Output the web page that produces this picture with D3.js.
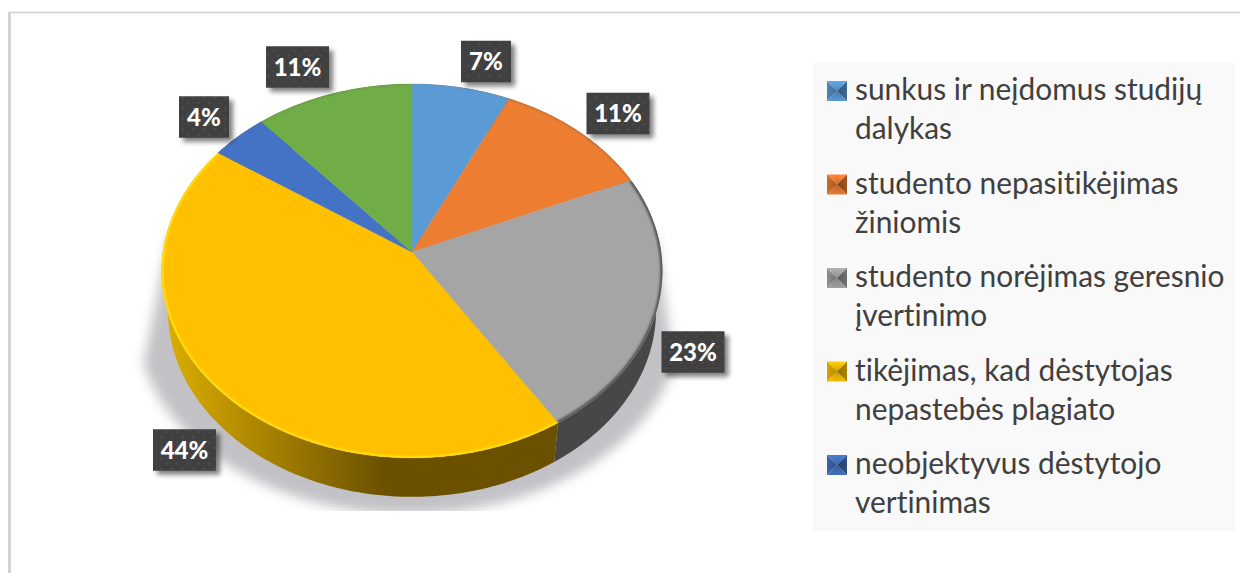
<!DOCTYPE html>
<html><head><meta charset="utf-8">
<script src="https://cdn.jsdelivr.net/npm/d3@7"></script>
<style>html,body{margin:0;padding:0;background:#fff}svg{display:block}text{font-family:Lato,"Open Sans",sans-serif;font-variant-ligatures:none}</style>
</head><body><svg id="c" width="1240" height="573"></svg>
<script>
const values=[7.0,11.4,22.6,43.6,4.1,11.3];
const valueLabels=["7%","11%","23%","44%","4%","11%"];
const sliceColors=["#5B9BD5","#ED7D31","#A5A5A5","#FFC000","#4472C4","#70AD47"];
const legendLines=[["sunkus ir neįdomus studijų","dalykas"],["studento nepasitikėjimas","žiniomis"],["studento norėjimas geresnio","įvertinimo"],["tikėjimas, kad dėstytojas","nepastebės plagiato"],["neobjektyvus dėstytojo","vertinimas"]];
const legendColors=sliceColors.slice(0,5);
const labelCenters=[[486,61.5],[618,113.5],[693,352],[184.5,450],[204,117],[297.5,67]];

const svg=d3.select("#c");
const cx=412,cy=252,R=249,A=185,B=0.1016,H=39.6,K=0.975;
const proj=(t,wall=false)=>{const u=Math.sin(t),v=Math.cos(t),d=1+B*v,k=wall?K:1,h=wall?H:0;return [cx+k*R*u/d,cy-k*A*v/d+h/d];};
const line=d3.line();
const arcPts=(a,b,wall=false)=>{const n=Math.max(2,Math.ceil((b-a)/0.01));return d3.range(n+1).map(i=>proj(a+(b-a)*i/n,wall));};
const pie=d3.pie().sort(null)(values);
const defs=svg.append("defs");
const blur=(id,s)=>defs.append("filter").attr("id",id).attr("x","-30%").attr("y","-30%").attr("width","160%").attr("height","160%").append("feGaussianBlur").attr("stdDeviation",s);
blur("b1",1.3);blur("b8",6);blur("bs",2.5);
const dot=defs.append("pattern").attr("id","dots").attr("width",10.6).attr("height",10.6).attr("patternUnits","userSpaceOnUse");
dot.append("rect").attr("width",10.6).attr("height",10.6).attr("fill","#404040");
dot.append("circle").attr("cx",2.5).attr("cy",2.5).attr("r",1).attr("fill","#565656");
dot.append("circle").attr("cx",7.8).attr("cy",7.8).attr("r",1).attr("fill","#4e4e4e");
const cen=defs.append("radialGradient").attr("id","swc");
cen.append("stop").attr("offset",0).attr("stop-color","#000").attr("stop-opacity",0.18);
cen.append("stop").attr("offset",1).attr("stop-color","#000").attr("stop-opacity",0);

// frame
svg.append("path").attr("d","M9.5,573V12").attr("fill","none").attr("stroke","#d4d4d4").attr("stroke-width",3);
svg.append("path").attr("d","M8,12.5H1240").attr("fill","none").attr("stroke","#cfcfcf").attr("stroke-width",1.5);

// shadow
defs.append("clipPath").attr("id","shClip").append("rect").attr("x",100).attr("y",200).attr("width",600).attr("height",311);
const shadowPts=[[proj(-Math.PI/2)[0]+6,235],...d3.range(0,61).map(i=>{const t=-Math.PI/2-0.22-(Math.PI-0.44)*i/60;return [cx-3+272*Math.sin(t),322-192*Math.cos(t)];}),[proj(Math.PI/2)[0]-6,235]];
svg.append("g").attr("clip-path","url(#shClip)").append("path").attr("d",line(shadowPts)+"Z").attr("fill","#c2c2c6").attr("filter","url(#b8)");

// walls
const wallGrad=[["#2f5f8c","#2f5f8c"],["#8c4a1c","#8c4a1c"],["#4a4a4a","#474747"],["#dcae00","#6b5000"],["#2a4578","#2a4578"],["#436a2a","#436a2a"]];
pie.forEach((d,i)=>{
  const g=defs.append("linearGradient").attr("id","w"+i).attr("gradientUnits","userSpaceOnUse").attr("x1",165).attr("x2",385).attr("y1",0).attr("y2",0);
  g.append("stop").attr("offset",0).attr("stop-color",wallGrad[i][0]);
  g.append("stop").attr("offset",1).attr("stop-color",wallGrad[i][1]);
  const top=arcPts(d.startAngle,d.endAngle),bot=arcPts(d.startAngle,d.endAngle,true).reverse();
  svg.append("path").attr("d",line(top.concat(bot))+"Z").attr("fill",`url(#w${i})`);
});

// top faces with soft rim
const rimColors=["#6f8ca8","#8a6a50","#4c4c4c","#FFE81A","#5a6f9a","#6a8a50"];
const rimOp=[0.7,0.7,0.95,1,0.7,0.7];
const rimW=[1.6,1.6,4,3,1.6,1.6];
pie.forEach((d,i)=>{
  const outer=arcPts(d.startAngle,d.endAngle);
  const shape=line([[cx,cy],...outer])+"Z";
  defs.append("clipPath").attr("id","s"+i).append("path").attr("d",shape);
  svg.append("path").attr("d",shape).attr("fill",sliceColors[i]).attr("stroke",sliceColors[i]).attr("stroke-width",0.4);
  svg.append("g").attr("clip-path",`url(#s${i})`).append("path").attr("d",line(outer)).attr("fill","none")
    .attr("stroke",rimColors[i]).attr("stroke-opacity",rimOp[i]).attr("stroke-width",rimW[i]).attr("filter","url(#b1)");
});

// data labels
const lw=s=>s.length===2?50:63;
valueLabels.forEach((s,i)=>{
  const [x,y]=labelCenters[i],w=lw(s),h=41.5;
  svg.append("rect").attr("x",x-w/2+4).attr("y",y-h/2+4).attr("width",w).attr("height",h).attr("fill","#000").attr("opacity",0.5).attr("filter","url(#bs)");
  svg.append("rect").attr("x",x-w/2).attr("y",y-h/2).attr("width",w).attr("height",h).attr("fill","url(#dots)");
  svg.append("text").attr("x",x).attr("y",y+8.5).attr("text-anchor","middle").attr("fill","#fff").attr("font-weight",900).attr("font-size",24).text(s);
});

// legend
svg.append("rect").attr("x",813).attr("y",63).attr("width",422).attr("height",468).attr("fill","#f9f9f9");
const legY=d3.scaleLinear().domain([0,4]).range([91,465]);
const shade=(c,k)=>k>0?d3.color(c).brighter(k).formatHex():d3.color(c).darker(-k).formatHex();
legendLines.forEach((ls,i)=>{
  const y=legY(i),x0=827,x1=847,y0=y-10,y1=y+10,mx=(x0+x1)/2,c=legendColors[i];
  const tri=[[[x0,y0],[x1,y0],[mx,y]],[[x0,y1],[x1,y1],[mx,y]],[[x0,y0],[x0,y1],[mx,y]],[[x1,y0],[x1,y1],[mx,y]]];
  [0.2,-0.1,-0.45,-1.1].forEach((k,j)=>svg.append("path").attr("d",line(tri[j])+"Z").attr("fill",shade(c,k)));
  svg.append("circle").attr("cx",mx).attr("cy",y).attr("r",10).attr("fill","url(#swc)");
  ls.forEach((t,j)=>svg.append("text").attr("x",855).attr("y",y+9+j*39).attr("fill","#404040").attr("font-size",29.9).text(t));
});
</script></body></html>
